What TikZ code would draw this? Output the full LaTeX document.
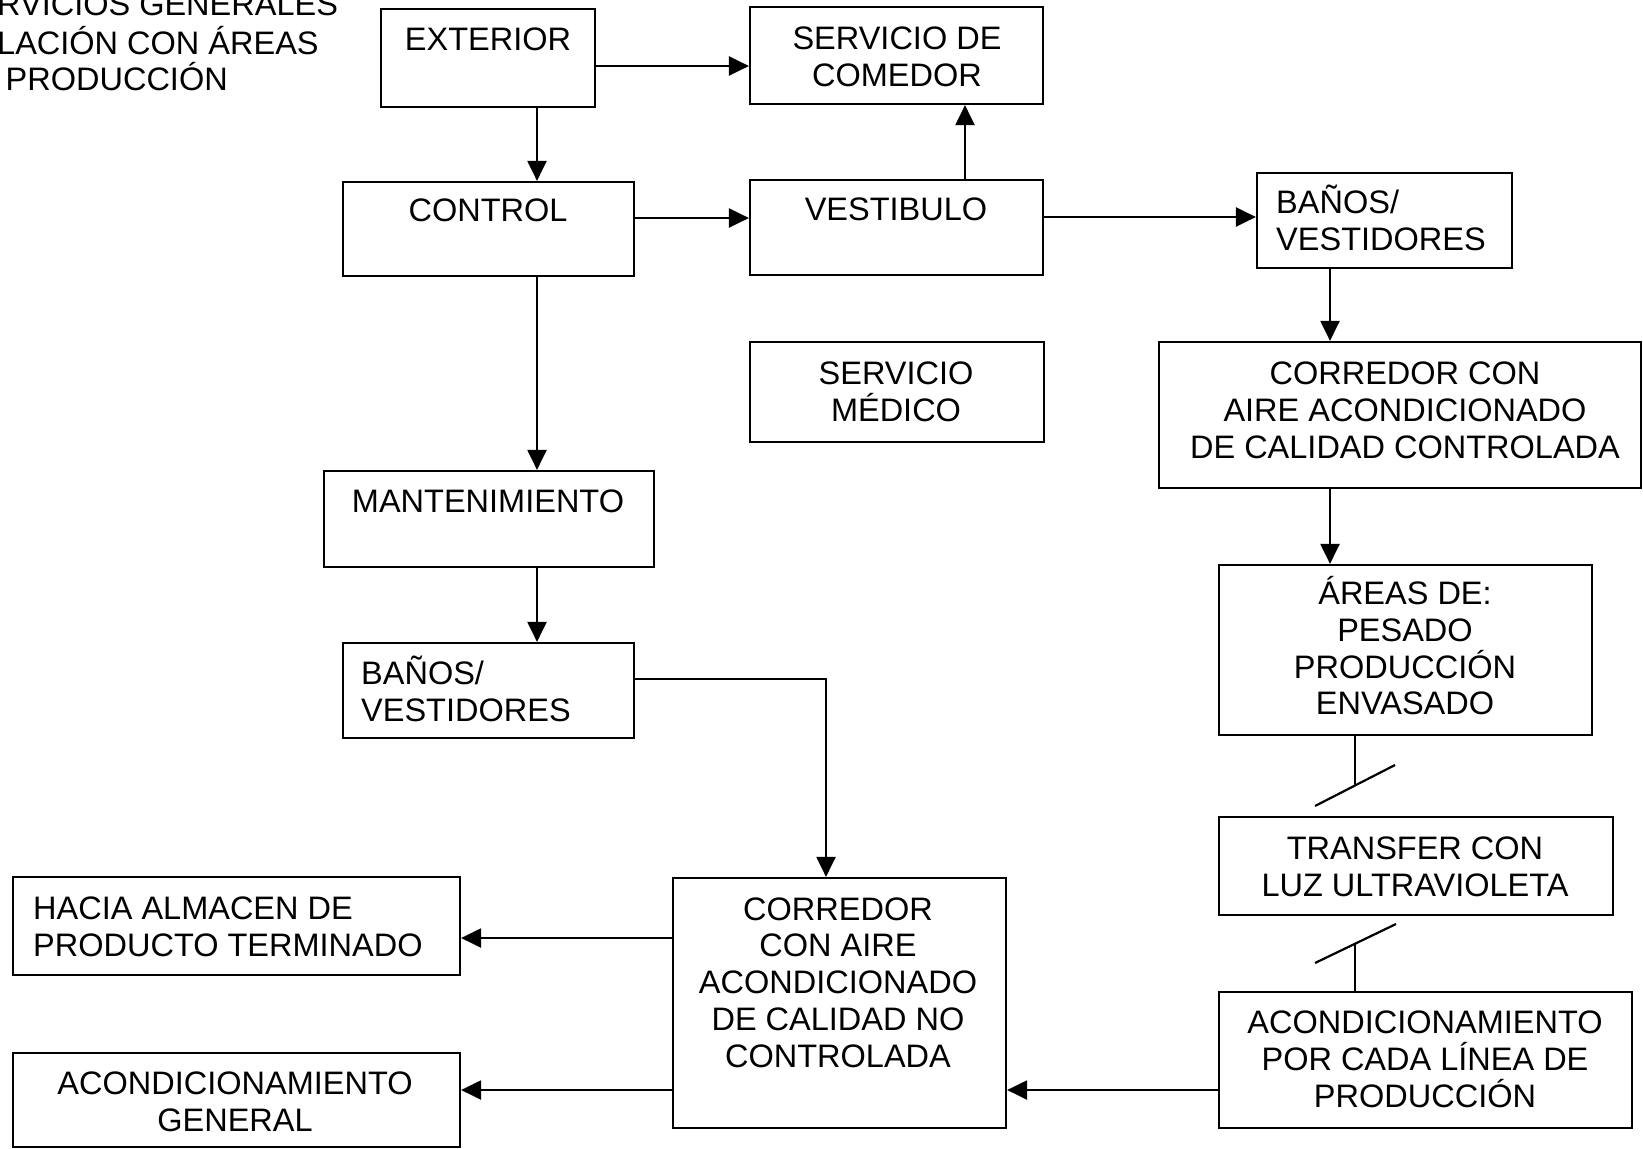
\documentclass[tikz,border=0pt]{standalone}
\usepackage{fontspec}
\setmainfont{Liberation Sans}
\usetikzlibrary{arrows.meta}
% one text line with a fixed strut so that stacked lines keep an even pitch
\newcommand\Ln[1]{\rule[-6.7pt]{0pt}{36.7pt}\smash{#1}}
\begin{document}
\begin{tikzpicture}[x=1pt,y=-1pt,
  box/.style={draw, line width=2.2pt, inner sep=0pt},
  lbl/.style={inner sep=0pt, font={\fontsize{32.5}{36.7}\selectfont\lineskiplimit=-\maxdimen}},
  wire/.style={line width=2.2pt},
  arr/.style={wire, -{Triangle[length=20pt,width=19pt]}}]
\useasboundingbox[fill=white] (0,0) rectangle (1643,1148);

% heading
\node[lbl, anchor=west] (h1) at (-3,4)  {\Ln{RVICIOS GENERALES}};
\node[lbl, anchor=west] (h2) at (-3,43) {\Ln{LACIÓN CON ÁREAS}};
\node[lbl, anchor=west] (h3) at (5.5,79) {\Ln{PRODUCCIÓN}};

% boxes
\node[box, minimum width=214pt, minimum height=98pt]  (ext)    at (488,58)     {};
\node[box, minimum width=293pt, minimum height=97pt]  (com)    at (896.5,55.5) {};
\node[box, minimum width=291pt, minimum height=94pt]  (ctl)    at (488.5,229)  {};
\node[box, minimum width=293pt, minimum height=95pt]  (vest)   at (896.5,227.5){};
\node[box, minimum width=255pt, minimum height=95pt]  (banA)   at (1384.5,220.5){};
\node[box, minimum width=294pt, minimum height=100pt] (med)    at (897,392)    {};
\node[box, minimum width=482pt, minimum height=146pt] (corA)   at (1400,415)   {};
\node[box, minimum width=373pt, minimum height=170pt] (areas)  at (1405.5,650) {};
\node[box, minimum width=394pt, minimum height=98pt]  (trans)  at (1416,866)   {};
\node[box, minimum width=413pt, minimum height=136pt] (acondL) at (1425.5,1060){};
\node[box, minimum width=330pt, minimum height=96pt]  (mant)   at (489,519)    {};
\node[box, minimum width=291pt, minimum height=95pt]  (banB)   at (488.5,690.5){};
\node[box, minimum width=333pt, minimum height=250pt] (corB)   at (839.5,1003) {};
\node[box, minimum width=447pt, minimum height=98pt]  (hacia)  at (236.5,926)  {};
\node[box, minimum width=447pt, minimum height=94pt]  (acondG) at (236.5,1100) {};

% texts
\node[lbl] (extT) at (488,39) {\Ln{EXTERIOR}};
\node[lbl, align=center] (comT) at (897,56) {\Ln{SERVICIO DE}\\\Ln{COMEDOR}};
\node[lbl] (ctlT) at (488,210) {\Ln{CONTROL}};
\node[lbl] (vestT) at (896,209) {\Ln{VESTIBULO}};
\node[lbl, align=left, anchor=west] (banAT) at (1276,220) {\Ln{BAÑOS/}\\\Ln{VESTIDORES}};
\node[lbl, align=center] (medT) at (896,391) {\Ln{SERVICIO}\\\Ln{MÉDICO}};
\node[lbl, align=center] (corAT) at (1405,410) {\Ln{CORREDOR CON}\\\Ln{AIRE ACONDICIONADO}\\\Ln{DE CALIDAD CONTROLADA}};
\node[lbl, align=center] (areasT) at (1405,648) {\Ln{ÁREAS DE:}\\\Ln{PESADO}\\\Ln{PRODUCCIÓN}\\\Ln{ENVASADO}};
\node[lbl, align=center] (transT) at (1415,866) {\Ln{TRANSFER CON}\\\Ln{LUZ ULTRAVIOLETA}};
\node[lbl, align=center] (acondLT) at (1425,1059) {\Ln{ACONDICIONAMIENTO}\\\Ln{POR CADA LÍNEA DE}\\\Ln{PRODUCCIÓN}};
\node[lbl] (mantT) at (488,501) {\Ln{MANTENIMIENTO}};
\node[lbl, align=left, anchor=west] (banBT) at (361,691) {\Ln{BAÑOS/}\\\Ln{VESTIDORES}};
\node[lbl, align=center] (corBT) at (838,982) {\Ln{CORREDOR}\\\Ln{CON AIRE}\\\Ln{ACONDICIONADO}\\\Ln{DE CALIDAD NO}\\\Ln{CONTROLADA}};
\node[lbl, align=left, anchor=west] (haciaT) at (33,926) {\Ln{HACIA ALMACEN DE}\\\Ln{PRODUCTO TERMINADO}};
\node[lbl, align=center] (acondGT) at (235,1101) {\Ln{ACONDICIONAMIENTO}\\\Ln{GENERAL}};

% connectors
\draw[arr] ([yshift=-8pt]ext.east) -- ([yshift=-10.5pt]com.west);
\draw[arr] ([xshift=49pt]ext.south) -- ([xshift=48.5pt]ctl.north);
\draw[arr] ([yshift=11pt]ctl.east) -- ([yshift=9.5pt]vest.west);
\draw[arr] ([xshift=68.5pt]vest.north) -- ([xshift=68.5pt]com.south);
\draw[arr] ([yshift=10.5pt]vest.east) -- ([yshift=3.5pt]banA.west);
\draw[arr] ([xshift=-54.5pt]banA.south) -- ([xshift=-70pt]corA.north);
\draw[arr] ([xshift=-70pt]corA.south) -- ([xshift=-75.5pt]areas.north);
\draw[arr] ([xshift=48.5pt]ctl.south) -- ([xshift=48pt]mant.north);
\draw[arr] ([xshift=48pt]mant.south) -- ([xshift=48.5pt]banB.north);
\draw[arr] ([yshift=11.5pt]banB.east) -| ([xshift=-13.5pt]corB.north);
\draw[arr] ([yshift=65pt]corB.west) -- ([yshift=-12pt]hacia.east);
\draw[arr] ([yshift=-87pt]corB.west) -- ([yshift=10pt]acondG.east);
\draw[arr] ([yshift=-30pt]acondL.west) -- ([yshift=-87pt]corB.east);

% open switch marks between the production areas and the transfer
\coordinate (k1) at (1355,786);
\coordinate (k1a) at (1315,806);
\coordinate (k1b) at (1395,765);
\draw[wire] ([xshift=-50.5pt]areas.south) -- (k1);
\draw[wire] (k1a) -- (k1b);
\coordinate (k2) at (1355,944);
\coordinate (k2a) at (1315,963);
\coordinate (k2b) at (1396,924);
\draw[wire] (k2) -- ([xshift=-70.5pt]acondL.north);
\draw[wire] (k2a) -- (k2b);
\end{tikzpicture}
\end{document}
